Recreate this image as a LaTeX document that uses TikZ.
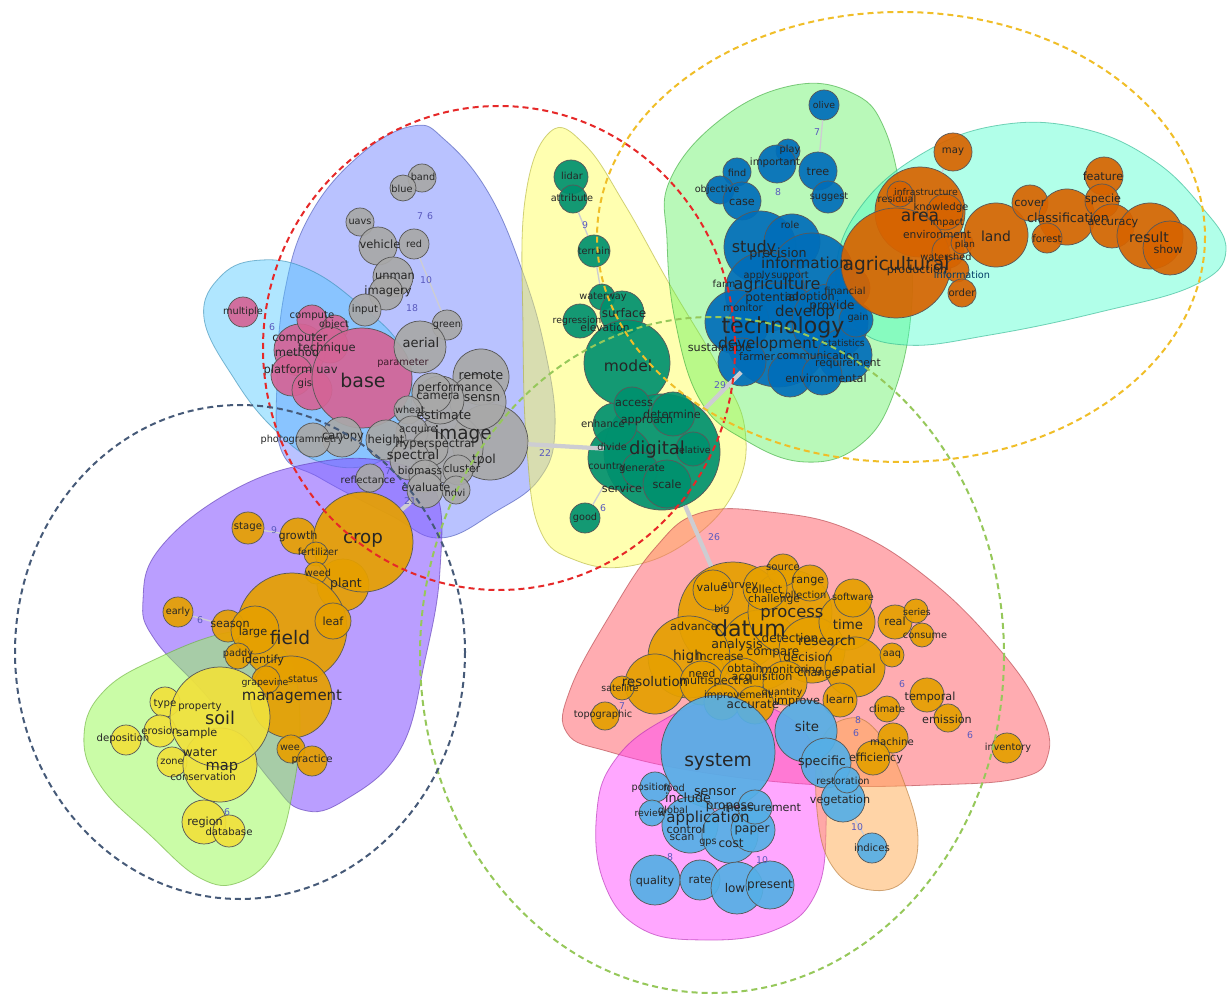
\documentclass[tikz,border=0pt]{standalone}
\usepackage{fontspec}
\setmainfont{DejaVu Sans}
\definecolor{cgray}{RGB}{168,168,168}
\definecolor{cpink}{RGB}{212,100,150}
\definecolor{cteal}{RGB}{0,145,110}
\definecolor{cblue}{RGB}{0,110,185}
\definecolor{corange}{RGB}{215,100,0}
\definecolor{cgold}{RGB}{230,160,0}
\definecolor{cyel}{RGB}{240,225,60}
\definecolor{clblue}{RGB}{85,175,230}
\definecolor{hperi}{RGB}{100,120,255}
\definecolor{hcyan}{RGB}{80,200,255}
\definecolor{hyel}{RGB}{255,255,80}
\definecolor{hgreen}{RGB}{80,240,80}
\definecolor{haqua}{RGB}{60,255,200}
\definecolor{hpurple}{RGB}{130,80,255}
\definecolor{hlgreen}{RGB}{150,250,80}
\definecolor{hred}{RGB}{255,90,100}
\definecolor{hmag}{RGB}{255,60,255}
\definecolor{horange}{RGB}{255,170,80}
\definecolor{numc}{RGB}{90,90,190}
\definecolor{dred}{RGB}{230,40,40}
\definecolor{dorange}{RGB}{240,190,40}
\definecolor{dgreen}{RGB}{150,200,90}
\definecolor{dblue}{RGB}{70,90,120}
\definecolor{linkc}{RGB}{205,205,210}
\newcounter{tcount}
\newcommand\mybub[5]{\node[bub={#4}{#5}] (#1) at (#2,#3) {};}
\newcommand\mytx[5][black!85]{\stepcounter{tcount}\node[wt,text=#1,font=\fontsize{#4}{#4}\selectfont] (t\thetcount) at (#2,#3) {#5};}
\newcommand\mynum[3]{\stepcounter{tcount}\node[numt] (t\thetcount) at (#1,#2) {#3};}
\begin{document}
\begin{tikzpicture}[x=0.75pt,y=-0.75pt,
  bub/.style 2 args={circle, draw=black!65, line width=0.55pt, fill=#1, fill opacity=0.92, minimum size=#2*1.5pt, inner sep=0pt},
  wt/.style={inner sep=0pt},
  numt/.style={inner sep=0pt, text=numc, font=\fontsize{7}{7}\selectfont},
  hull/.style 2 args={fill=#1, fill opacity=#2, draw=#1!70!black, draw opacity=0.6, line width=0.6pt},
  dsh/.style={line width=1.5pt, dash pattern=on 4.5pt off 3pt},
  biglink/.style={draw=linkc, line width=3.2pt},
  smlink/.style={draw=linkc, line width=1pt}]
\useasboundingbox (0,0) rectangle (1228,998);
\fill[white] (0,0) rectangle (1228,998);
% hulls
\path[hull={hperi}{0.45}] plot[smooth cycle, tension=0.7] coordinates {(413,126) (445,140) (488,192) (522,270) (545,350) (555,428) (540,478) (495,512) (440,538) (390,515) (320,478) (282,452) (277,380) (285,290) (310,215) (360,155)};
\path[hull={hcyan}{0.45}] plot[smooth cycle, tension=0.7] coordinates {(204,318) (222,275) (262,260) (310,270) (360,305) (400,345) (412,390) (400,440) (370,465) (320,462) (275,430) (235,380)};
\path[hull={hyel}{0.45}] plot[smooth cycle, tension=0.7] coordinates {(550,132) (585,145) (625,205) (670,285) (720,370) (745,430) (735,490) (690,540) (630,566) (575,560) (540,530) (527,450) (523,330) (525,200)};
\path[hull={hgreen}{0.4}] plot[smooth cycle, tension=0.7] coordinates {(670,180) (720,120) (790,86) (850,92) (885,130) (905,220) (912,300) (895,390) (860,445) (805,462) (745,440) (700,400) (675,320) (667,240)};
\path[hull={haqua}{0.4}] plot[smooth cycle, tension=0.7] coordinates {(836,270) (862,205) (925,152) (1000,125) (1080,128) (1150,158) (1200,205) (1226,250) (1195,285) (1100,312) (990,335) (905,345) (855,325)};
\path[hull={hpurple}{0.55}] plot[smooth cycle, tension=0.7] coordinates {(143,600) (160,548) (230,492) (312,463) (390,462) (435,490) (440,570) (425,660) (400,750) (345,800) (303,810) (270,780) (210,700) (155,640)};
\path[hull={hlgreen}{0.5}] plot[smooth cycle, tension=0.7] coordinates {(84,735) (105,690) (160,657) (225,633) (262,636) (290,660) (300,720) (293,790) (275,850) (240,882) (200,878) (150,835) (100,785)};
\path[hull={hred}{0.5}] plot[smooth cycle, tension=0.7] coordinates {(700,513) (770,512) (850,530) (930,580) (1000,650) (1040,710) (1048,755) (1020,778) (930,785) (820,785) (700,772) (610,752) (567,733) (570,690) (610,615) (655,548)};
\path[hull={hmag}{0.45}] plot[smooth cycle, tension=0.7] coordinates {(597,810) (615,760) (660,722) (720,700) (785,715) (818,760) (826,830) (815,895) (775,930) (705,940) (640,928) (603,880)};
\path[hull={horange}{0.5}] plot[smooth cycle, tension=0.7] coordinates {(820,745) (850,718) (880,735) (905,785) (918,840) (905,880) (870,890) (835,870) (818,820)};
% pink cluster
\mybub{multiple}{243}{312}{cpink}{15}
\mybub{pA}{300}{350}{cpink}{26}
\mybub{pB}{292}{375}{cpink}{21}
\mybub{pC}{312}{390}{cpink}{20}
\mybub{compute}{312}{320}{cpink}{15}
\mybub{object}{335}{328}{cpink}{13}
\mybub{pD}{330}{345}{cpink}{18}
\mybub{base}{362}{378}{cpink}{50}
% gray cluster
\mybub{band}{422}{178}{cgray}{14}
\mybub{blue}{403}{188}{cgray}{13}
\mybub{uavs}{360}{222}{cgray}{14}
\mybub{vehicle}{378}{246}{cgray}{19}
\mybub{red}{414}{244}{cgray}{15}
\mybub{unman}{393}{277}{cgray}{20}
\mybub{imagery}{386}{293}{cgray}{17}
\mybub{input}{365}{310}{cgray}{16}
\mybub{green}{447}{325}{cgray}{15}
\mybub{aerial}{420}{347}{cgray}{26}
\mybub{gA}{490}{442}{cgray}{38}
\mybub{gB}{448}{448}{cgray}{35}
\mybub{remote}{481}{377}{cgray}{28}
\mybub{sensn}{478}{402}{cgray}{28}
\mybub{gC}{440}{400}{cgray}{24}
\mybub{perf}{432}{393}{cgray}{20}
\mybub{wheat}{408}{410}{cgray}{14}
\mybub{acq}{412}{432}{cgray}{16}
\mybub{height}{386}{440}{cgray}{20}
\mybub{canopy}{342}{437}{cgray}{20}
\mybub{photo}{313}{440}{cgray}{17}
\mybub{hyper}{430}{448}{cgray}{18}
\mybub{spectral}{410}{460}{cgray}{20}
\mybub{biomass}{425}{476}{cgray}{16}
\mybub{cluster}{458}{470}{cgray}{15}
\mybub{evaluate}{425}{490}{cgray}{18}
\mybub{ndvi}{456}{490}{cgray}{14}
\mybub{refl}{370}{478}{cgray}{14}
% teal cluster
\mybub{lidar}{571}{177}{cteal}{17}
\mybub{attribute}{573}{199}{cteal}{14}
\mybub{terrain}{594}{251}{cteal}{16}
\mybub{waterway}{602}{297}{cteal}{13}
\mybub{surface}{622}{313}{cteal}{22}
\mybub{regression}{580}{321}{cteal}{17}
\mybub{model}{627}{363}{cteal}{43}
\mybub{dig}{662}{452}{cteal}{58}
\mybub{dA}{620}{458}{cteal}{32}
\mybub{dB}{615}{425}{cteal}{22}
\mybub{access}{632}{405}{cteal}{18}
\mybub{determine}{673}{414}{cteal}{22}
\mybub{relative}{693}{449}{cteal}{17}
\mybub{generate}{640}{470}{cteal}{18}
\mybub{scale}{667}{484}{cteal}{24}
\mybub{good}{585}{518}{cteal}{15}
% blue cluster
\mybub{olive}{824}{105}{cblue}{15}
\mybub{play}{788}{151}{cblue}{12}
\mybub{important}{777}{164}{cblue}{19}
\mybub{tree}{818}{171}{cblue}{19}
\mybub{suggest}{828}{197}{cblue}{16}
\mybub{find}{737}{172}{cblue}{14}
\mybub{objective}{720}{190}{cblue}{14}
\mybub{case}{742}{201}{cblue}{19}
\mybub{bA}{760}{247}{cblue}{36}
\mybub{bB}{792}{242}{cblue}{28}
\mybub{bC}{812}{275}{cblue}{42}
\mybub{bD}{765}{292}{cblue}{40}
\mybub{bE}{737}{322}{cblue}{32}
\mybub{tech}{778}{335}{cblue}{52}
\mybub{bF}{830}{322}{cblue}{38}
\mybub{bG}{848}{288}{cblue}{22}
\mybub{bH}{845}{355}{cblue}{27}
\mybub{bI}{742}{362}{cblue}{24}
\mybub{bJ}{790}{375}{cblue}{22}
\mybub{bK}{822}{375}{cblue}{20}
\mybub{bL}{856}{320}{cblue}{17}
% dark orange cluster
\mybub{may}{953}{152}{corange}{19}
\mybub{area}{920}{212}{corange}{45}
\mybub{residual}{900}{194}{corange}{13}
\mybub{knowledge}{945}{212}{corange}{18}
\mybub{agricultural}{896}{263}{corange}{55}
\mybub{watershed}{948}{252}{corange}{16}
\mybub{plan}{962}{243}{corange}{11}
\mybub{infoO}{957}{270}{corange}{12}
\mybub{order}{962}{293}{corange}{14}
\mybub{land}{996}{235}{corange}{32}
\mybub{cover}{1030}{203}{corange}{18}
\mybub{classification}{1067}{217}{corange}{28}
\mybub{forest}{1047}{238}{corange}{15}
\mybub{feature}{1104}{176}{corange}{19}
\mybub{specie}{1102}{201}{corange}{17}
\mybub{accuracy}{1112}{226}{corange}{22}
\mybub{result}{1150}{236}{corange}{33}
\mybub{show}{1170}{248}{corange}{27}
% crop / field cluster
\mybub{stage}{248}{528}{cgold}{16}
\mybub{growth}{298}{536}{cgold}{18}
\mybub{plant}{343}{585}{cgold}{26}
\mybub{crop}{363}{542}{cgold}{50}
\mybub{fert}{316}{554}{cgold}{12}
\mybub{weed}{316}{573}{cgold}{11}
\mybub{field}{292}{628}{cgold}{55}
\mybub{leaf}{333}{621}{cgold}{18}
\mybub{early}{178}{612}{cgold}{15}
\mybub{season}{228}{626}{cgold}{16}
\mybub{large}{255}{630}{cgold}{24}
\mybub{paddy}{238}{656}{cgold}{13}
\mybub{management}{291}{697}{cgold}{41}
\mybub{grapevine}{266}{680}{cgold}{14}
\mybub{wee}{291}{749}{cgold}{14}
\mybub{practice}{312}{761}{cgold}{15}
% soil cluster
\mybub{deposition}{126}{740}{cyel}{15}
\mybub{type}{165}{702}{cyel}{15}
\mybub{erosion}{160}{731}{cyel}{16}
\mybub{zone}{172}{762}{cyel}{15}
\mybub{map}{220}{765}{cyel}{37}
\mybub{soil}{220}{717}{cyel}{50}
\mybub{region}{204}{822}{cyel}{22}
\mybub{database}{229}{831}{cyel}{16}
% datum cluster
\mybub{datum}{733}{617}{cgold}{55}
\mybub{yA}{760}{650}{cgold}{40}
\mybub{high}{689}{657}{cgold}{41}
\mybub{resolution}{655}{684}{cgold}{30}
\mybub{satellite}{622}{688}{cgold}{12}
\mybub{process}{790}{612}{cgold}{42}
\mybub{yB}{812}{650}{cgold}{33}
\mybub{time}{847}{622}{cgold}{28}
\mybub{spatial}{855}{667}{cgold}{30}
\mybub{software}{853}{598}{cgold}{19}
\mybub{value}{713}{590}{cgold}{20}
\mybub{source}{783}{570}{cgold}{16}
\mybub{collect}{765}{588}{cgold}{22}
\mybub{range}{810}{583}{cgold}{18}
\mybub{need}{702}{683}{cgold}{22}
\mybub{obtain}{742}{680}{cgold}{22}
\mybub{yC}{785}{683}{cgold}{22}
\mybub{improvement}{722}{702}{cgold}{18}
\mybub{accurate}{755}{705}{cgold}{19}
\mybub{learn}{840}{700}{cgold}{17}
\mybub{real}{895}{622}{cgold}{17}
\mybub{series}{916}{611}{cgold}{12}
\mybub{consume}{922}{635}{cgold}{12}
\mybub{aaq}{892}{655}{cgold}{12}
\mybub{topographic}{605}{716}{cgold}{14}
\mybub{temporal}{927}{695}{cgold}{17}
\mybub{climate}{887}{709}{cgold}{13}
\mybub{emission}{948}{718}{cgold}{14}
\mybub{machine}{893}{738}{cgold}{15}
\mybub{efficiency}{873}{758}{cgold}{17}
\mybub{inventory}{1007}{748}{cgold}{15}
% system cluster
\mybub{site}{806}{731}{clblue}{31}
\mybub{specific}{826}{763}{clblue}{25}
\mybub{vegetation}{843}{800}{clblue}{22}
\mybub{restoration}{847}{780}{clblue}{13}
\mybub{indices}{872}{848}{clblue}{15}
\mybub{system}{718}{752}{clblue}{57}
\mybub{sA}{690}{825}{clblue}{28}
\mybub{sB}{730}{835}{clblue}{28}
\mybub{paper}{753}{830}{clblue}{22}
\mybub{measure}{755}{807}{clblue}{17}
\mybub{position}{655}{787}{clblue}{15}
\mybub{review}{652}{813}{clblue}{13}
\mybub{quality}{655}{880}{clblue}{25}
\mybub{rate}{700}{880}{clblue}{20}
\mybub{low}{737}{888}{clblue}{26}
\mybub{present}{770}{885}{clblue}{24}
% links
\begin{scope}[on background layer/.style={}]
\end{scope}
\draw[biglink] (gA) -- (dig);
\draw[biglink] (dig) -- (tech);
\draw[biglink] (dig) -- (datum);
\draw[biglink] (crop) -- (evaluate);
\draw[smlink] (olive) -- (tree);
\draw[smlink] (attribute) -- (terrain);
\draw[smlink] (terrain) -- (waterway);
\draw[smlink] (red) -- (green);
\draw[smlink] (may) -- (area);
\draw[smlink] (good) -- (dA);
\draw[smlink] (stage) -- (growth);
\draw[smlink] (early) -- (season);
\draw[smlink] (indices) -- (vegetation);
% gray texts
\mytx{423}{177}{7.3}{band}
\mytx{402}{189}{7.3}{blue}
\mytx{360}{222}{7.3}{uavs}
\mytx{380}{244}{8.6}{vehicle}
\mytx{414}{244}{7.3}{red}
\mytx{395}{276}{8.6}{unman}
\mytx{388}{291}{8.6}{imagery}
\mytx{365}{310}{7.6}{input}
\mytx{447}{326}{7.3}{green}
\mytx{421}{343}{9.8}{aerial}
\mytx[black!70!cpink]{403}{363}{7.3}{parameter}
\mytx{481}{375}{9.3}{remote}
\mytx{455}{388}{8.8}{performance}
\mytx{438}{396}{8.6}{camera}
\mytx{482}{398}{9.3}{sensn}
\mytx{410}{410}{7.3}{wheat}
\mytx{444}{415}{9.3}{estimate}
\mytx{463}{434}{13.8}{image}
\mytx{418}{430}{7.6}{acquire}
\mytx{386}{440}{8.6}{height}
\mytx{343}{437}{8.6}{canopy}
\mytx{302}{440}{7.3}{photogrammetry}
\mytx{435}{444}{8.6}{hyperspectral}
\mytx{413}{456}{9.8}{spectral}
\mytx{484}{460}{9.3}{tpol}
\mytx{420}{471}{8}{biomass}
\mytx{462}{469}{8}{cluster}
\mytx{426}{487}{8.4}{evaluate}
\mytx{455}{493}{7.3}{ndvi}
\mytx{368}{480}{7.3}{reflectance}
% pink texts
\mytx{243}{312}{7.3}{multiple}
\mytx{312}{316}{7.6}{compute}
\mytx{334}{325}{7.3}{object}
\mytx{300}{339}{8.6}{computer}
\mytx{327}{348}{8.6}{technique}
\mytx{297}{352}{8.6}{method}
\mytx{288}{370}{8.6}{platform}
\mytx{327}{370}{8.6}{uav}
\mytx{305}{384}{7.6}{gis}
\mytx{363}{380}{14.2}{base}
% teal texts
\mytx{572}{176}{7.3}{lidar}
\mytx{572}{198}{7.3}{attribute}
\mytx{594}{251}{7.3}{terrain}
\mytx{603}{297}{7.3}{waterway}
\mytx{624}{313}{9}{surface}
\mytx{577}{321}{7}{regression}
\mytx{605}{328}{8}{elevation}
\mytx{628}{366}{11.6}{model}
\mytx{634}{403}{8.4}{access}
\mytx{647}{420}{8.4}{approach}
\mytx{603}{424}{7.6}{enhance}
\mytx{672}{414}{8.4}{determine}
\mytx{612}{447}{7.3}{divide}
\mytx{657}{450}{13.5}{digital}
\mytx{693}{450}{7}{relative}
\mytx{607}{467}{7.3}{country}
\mytx{642}{469}{7.6}{generate}
\mytx{622}{488}{8.4}{service}
\mytx{667}{484}{8.4}{scale}
\mytx{585}{518}{7.3}{good}
% blue texts
\mytx{824}{105}{7}{olive}
\mytx{790}{150}{7.3}{play}
\mytx{775}{163}{7.6}{important}
\mytx{818}{172}{8.4}{tree}
\mytx{829}{197}{7.3}{suggest}
\mytx{737}{173}{7.3}{find}
\mytx{717}{190}{7.3}{objective}
\mytx{742}{202}{8.4}{case}
\mytx{790}{225}{7.3}{role}
\mytx{754}{248}{12}{study}
\mytx{778}{254}{9.5}{precision}
\mytx{805}{263}{11.4}{information}
\mytx{724}{284}{7.3}{farm}
\mytx{757}{276}{7.3}{apply}
\mytx{790}{276}{7.3}{support}
\mytx{777}{285}{12}{agriculture}
\mytx{772}{298}{9}{potential}
\mytx{810}{297}{8.4}{adoption}
\mytx{845}{291}{7.3}{financial}
\mytx{743}{308}{7.6}{monitor}
\mytx{805}{312}{11.3}{develop}
\mytx{832}{306}{9}{provide}
\mytx{858}{318}{7.3}{gain}
\mytx{783}{327}{16.6}{technology}
\mytx{768}{344}{11.3}{development}
\mytx{720}{347}{8.4}{sustainable}
\mytx{844}{343}{7}{statistics}
\mytx{757}{357}{8}{farmer}
\mytx{818}{356}{8}{communication}
\mytx{848}{364}{8}{requirement}
\mytx{826}{378}{8.4}{environmental}
% dark orange texts
\mytx{953}{152}{7.6}{may}
\mytx{897}{199}{7.3}{residual}
\mytx{926}{192}{7}{infrastructure}
\mytx{941}{208}{7.6}{knowledge}
\mytx{920}{217}{12.8}{area}
\mytx{947}{223}{7.3}{impact}
\mytx{937}{235}{8}{environment}
\mytx{965}{245}{7}{plan}
\mytx{946}{257}{7.3}{watershed}
\mytx{896}{265}{14}{agricultural}
\mytx{917}{270}{8.4}{production}
\mytx[black!45!cblue]{962}{275}{7.3}{information}
\mytx{962}{293}{7.6}{order}
\mytx{996}{236}{10.4}{land}
\mytx{1030}{203}{8.4}{cover}
\mytx{1068}{218}{9.5}{classification}
\mytx{1047}{239}{7.6}{forest}
\mytx{1103}{176}{8.4}{feature}
\mytx{1103}{199}{8.4}{specie}
\mytx{1113}{224}{8.4}{accuracy}
\mytx{1149}{237}{10.5}{result}
\mytx{1168}{249}{8.4}{show}
% crop/field texts
\mytx{248}{527}{7.6}{stage}
\mytx{298}{536}{8.4}{growth}
\mytx{363}{540}{13.7}{crop}
\mytx{318}{552}{7.3}{fertilizer}
\mytx{318}{573}{7.3}{weed}
\mytx{346}{584}{9.3}{plant}
\mytx{333}{621}{8.4}{leaf}
\mytx{178}{612}{7.3}{early}
\mytx{230}{624}{8.4}{season}
\mytx{253}{632}{8.4}{large}
\mytx{290}{638}{14}{field}
\mytx{238}{654}{7.3}{paddy}
\mytx{263}{660}{8.4}{identify}
\mytx{265}{683}{7}{grapevine}
\mytx{303}{679}{7.3}{status}
\mytx{292}{697}{11.2}{management}
\mytx{290}{748}{7.3}{wee}
\mytx{312}{760}{7.6}{practice}
% soil texts
\mytx{165}{704}{7.6}{type}
\mytx{200}{707}{7.6}{property}
\mytx{220}{718}{13.3}{soil}
\mytx{160}{731}{7.6}{erosion}
\mytx{197}{733}{8.4}{sample}
\mytx{123}{739}{7.6}{deposition}
\mytx{200}{752}{9}{water}
\mytx{172}{762}{7.3}{zone}
\mytx{222}{768}{11}{map}
\mytx{203}{777}{7.6}{conservation}
\mytx{205}{822}{8.4}{region}
\mytx{229}{832}{7.6}{database}
% datum texts
\mytx{783}{568}{7.6}{source}
\mytx{712}{587}{8.4}{value}
\mytx{740}{587}{8}{survey}
\mytx{764}{589}{8.4}{collect}
\mytx{808}{582}{8.4}{range}
\mytx{803}{595}{7.3}{collection}
\mytx{774}{600}{8}{challenge}
\mytx{853}{597}{7.3}{software}
\mytx{722}{610}{7.3}{big}
\mytx{792}{615}{12.3}{process}
\mytx{694}{626}{8.4}{advance}
\mytx{750}{628}{16.6}{datum}
\mytx{848}{625}{10}{time}
\mytx{790}{638}{9}{detection}
\mytx{827}{641}{10}{research}
\mytx{895}{621}{8.4}{real}
\mytx{917}{612}{7}{series}
\mytx{925}{636}{7.3}{consume}
\mytx{737}{645}{9.5}{analysis}
\mytx{773}{653}{9}{compare}
\mytx{688}{657}{10.3}{high}
\mytx{720}{656}{8.4}{increase}
\mytx{808}{657}{9}{decision}
\mytx{892}{655}{7.3}{aaq}
\mytx{855}{670}{9.4}{spatial}
\mytx{655}{682}{10}{resolution}
\mytx{620}{688}{7}{satellite}
\mytx{702}{674}{8}{need}
\mytx{716}{681}{8.4}{multispectral}
\mytx{745}{668}{8.4}{obtain}
\mytx{762}{677}{8.4}{acquisition}
\mytx{792}{670}{8.4}{monitoring}
\mytx{818}{673}{8.4}{change}
\mytx{738}{696}{7.6}{improvement}
\mytx{782}{693}{7.3}{quantity}
\mytx{753}{704}{9}{accurate}
\mytx{840}{699}{8.4}{learn}
\mytx{603}{715}{7.3}{topographic}
\mytx{930}{697}{8.4}{temporal}
\mytx{887}{709}{7.3}{climate}
\mytx{947}{719}{8.4}{emission}
\mytx{892}{742}{7.6}{machine}
\mytx{876}{758}{8.4}{efficiency}
\mytx{1008}{748}{7.3}{inventory}
% system texts
\mytx{797}{701}{8.4}{improve}
\mytx{807}{727}{10}{site}
\mytx{718}{762}{14}{system}
\mytx{822}{762}{9.5}{specific}
\mytx{843}{781}{7.3}{restoration}
\mytx{840}{800}{8.4}{vegetation}
\mytx{872}{848}{7.6}{indices}
\mytx{651}{788}{7.3}{position}
\mytx{674}{788}{7.3}{food}
\mytx{715}{792}{9.5}{sensor}
\mytx{688}{798}{9.5}{include}
\mytx{650}{813}{7}{review}
\mytx{673}{811}{7.3}{global}
\mytx{730}{807}{9}{propose}
\mytx{762}{808}{8.4}{measurement}
\mytx{708}{818}{11.3}{application}
\mytx{686}{829}{8.4}{control}
\mytx{752}{830}{9}{paper}
\mytx{682}{838}{8}{scan}
\mytx{708}{843}{7.3}{gps}
\mytx{731}{843}{9}{cost}
\mytx{655}{881}{8.4}{quality}
\mytx{700}{880}{8.4}{rate}
\mytx{735}{888}{9}{low}
\mytx{770}{886}{9}{present}
% numbers
\mynum{420}{216}{7}
\mynum{430}{216}{6}
\mynum{426}{280}{10}
\mynum{412}{308}{18}
\mynum{272}{327}{6}
\mynum{388}{471}{7}
\mynum{410}{501}{21}
\mynum{545}{453}{22}
\mynum{585}{225}{9}
\mynum{603}{508}{6}
\mynum{720}{385}{29}
\mynum{714}{537}{26}
\mynum{817}{132}{7}
\mynum{778}{192}{8}
\mynum{274}{530}{9}
\mynum{200}{620}{6}
\mynum{227}{812}{6}
\mynum{622}{706}{7}
\mynum{902}{684}{6}
\mynum{858}{720}{8}
\mynum{856}{733}{6}
\mynum{970}{735}{6}
\mynum{857}{827}{10}
\mynum{670}{857}{8}
\mynum{762}{860}{10}
% dashed community circles
\draw[dsh, dred] (499,348) ellipse [x radius=236, y radius=242];
\draw[dsh, dorange] (901,237) ellipse [x radius=304, y radius=225];
\draw[dsh, dgreen] (712,655) ellipse [x radius=292, y radius=338];
\draw[dsh, dblue] (240,652) ellipse [x radius=225, y radius=247];
\end{tikzpicture}
\end{document}
